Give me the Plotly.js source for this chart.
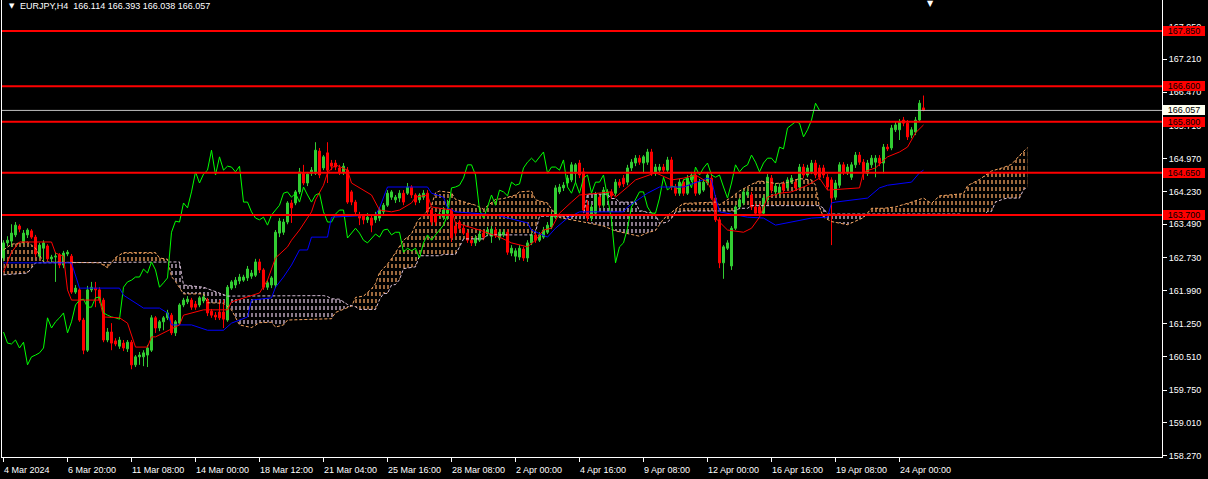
<!DOCTYPE html>
<html><head><meta charset="utf-8">
<script src="https://cdn.plot.ly/plotly-3.0.1.min.js"></script>
<style>html,body{margin:0;padding:0;background:#000;overflow:hidden}#chart{width:1208px;height:479px}</style>
</head><body><div id="chart"></div>
<script>
const headerText = 'EURJPY,H4\u00a0\u00a0166.114 166.393 166.038 166.057';
const timeLabels = ['4 Mar 2024','6 Mar 20:00','11 Mar 08:00','14 Mar 00:00','18 Mar 12:00','21 Mar 04:00','25 Mar 16:00','28 Mar 08:00','2 Apr 00:00','4 Apr 16:00','9 Apr 08:00','12 Apr 00:00','16 Apr 16:00','19 Apr 08:00','24 Apr 00:00'];
const timeLabelBars = [0,16,32,48,64,80,96,112,128,144,160,176,192,208,224];
const priceTicks = [167.95,167.21,166.47,165.71,164.97,164.23,163.49,162.73,161.99,161.25,160.51,159.75,159.01,158.27];
const levelPrices = [167.85,166.60,165.80,164.65,163.70];
const bidPrice = 166.057;

const openP = [
162.73,163.07,163.11,163.25,163.45,163.09,163.25,163.34,163.20,162.77,
162.95,163.00,162.71,162.75,162.80,162.57,162.82,162.77,161.96,162.01,
161.33,160.65,162.01,162.05,162.01,161.78,160.88,161.06,160.86,160.74,
160.81,160.68,160.83,160.32,160.50,160.50,160.54,160.65,161.38,161.15,
161.29,161.38,161.44,161.04,161.26,161.67,161.74,161.78,161.69,161.67,
161.76,161.78,161.53,161.44,161.51,161.51,161.33,162.05,162.12,162.21,
162.23,162.28,162.32,162.34,162.64,162.46,162.07,162.12,162.12,163.29,
163.31,163.54,163.97,163.97,164.22,164.64,164.42,164.64,164.64,165.14,
164.76,165.10,164.87,164.87,164.76,164.67,164.71,164.22,163.99,163.70,
163.68,163.59,163.63,163.59,163.63,163.77,163.92,164.10,164.04,164.08,
164.19,164.19,164.33,164.15,164.04,164.10,164.19,163.81,163.70,163.70,
163.65,163.74,163.81,163.45,163.54,163.40,163.29,163.13,163.07,163.13,
163.29,163.27,163.22,163.36,163.18,163.25,163.31,162.84,162.77,162.75,
162.93,162.73,163.07,163.25,163.13,163.20,163.31,163.43,163.65,164.22,
164.31,164.42,164.49,164.64,164.87,164.67,163.92,163.63,163.74,164.10,
163.92,164.15,164.22,164.19,164.44,164.53,164.44,164.76,164.87,164.98,
164.87,164.89,165.12,164.64,164.71,164.78,164.71,164.94,164.33,164.19,
164.44,164.19,164.49,164.60,164.19,164.26,164.42,164.53,164.08,163.59,
162.62,162.95,162.55,163.40,163.88,163.97,164.15,164.15,163.88,163.88,
163.74,164.04,164.53,164.22,164.19,164.40,164.31,164.44,164.44,164.33,
164.78,164.60,164.67,164.87,164.76,164.76,164.55,164.49,164.10,164.37,
164.83,164.67,164.55,164.83,165.05,164.89,164.64,164.83,164.89,164.98,
164.87,165.23,165.21,165.62,165.62,165.84,165.77,165.50,165.57,165.84,
166.114];
const highP = [
163.13,163.22,163.49,163.54,163.49,163.36,163.40,163.38,163.25,163.07,
163.13,163.04,162.80,162.86,162.84,162.89,162.91,162.82,162.12,162.05,
161.38,162.10,162.19,162.19,162.07,161.83,161.15,161.26,160.92,160.95,
160.88,160.88,160.88,160.54,160.61,160.65,160.77,161.44,161.42,161.33,
161.42,161.56,161.49,161.33,161.71,161.83,161.87,161.83,161.76,161.87,
161.92,161.83,161.58,161.51,161.78,161.78,162.12,162.23,162.30,162.37,
162.35,162.55,162.46,162.71,162.71,162.50,162.23,162.32,163.36,163.63,
163.61,164.01,164.04,164.26,164.76,164.83,164.67,164.78,165.34,165.21,
165.05,165.34,164.94,164.94,164.83,164.87,164.78,164.26,164.04,163.77,
163.72,163.74,163.70,163.77,163.88,163.97,164.26,164.26,164.15,164.26,
164.26,164.42,164.37,164.19,164.19,164.26,164.26,163.86,163.74,163.77,
163.88,164.04,163.86,163.54,163.59,163.47,163.36,163.20,163.25,163.34,
163.36,163.43,163.45,163.43,163.38,163.38,163.38,163.02,162.95,163.02,
162.98,163.13,163.31,163.31,163.31,163.43,163.54,163.77,164.37,164.40,
164.44,164.60,164.89,164.87,164.94,164.76,164.04,163.95,164.22,164.17,
164.33,164.28,164.28,164.51,164.51,164.60,164.83,164.96,165.05,165.05,
165.05,165.19,165.19,164.85,164.85,164.85,165.01,165.01,164.40,164.51,
164.51,164.60,164.67,164.67,164.51,164.51,164.67,164.60,164.15,163.65,
163.02,163.13,163.45,163.92,164.08,164.28,164.28,164.22,163.95,163.95,
164.15,164.62,164.60,164.42,164.40,164.46,164.55,164.60,164.51,164.85,
164.85,164.83,164.94,164.94,164.83,164.83,164.62,164.55,164.49,164.89,
164.89,164.85,164.89,165.12,165.12,164.96,164.94,165.05,165.05,165.05,
165.30,165.30,165.73,165.80,165.86,165.91,165.84,165.68,165.91,166.29,
166.393];
const lowP = [
162.66,163.00,162.98,163.20,163.31,163.04,163.18,163.16,162.75,162.73,
162.62,162.66,162.64,162.19,162.50,162.50,162.77,161.92,161.92,161.29,
160.56,160.61,161.96,161.62,161.71,160.83,160.83,160.65,160.74,160.68,
160.63,160.61,160.22,160.27,160.32,160.29,160.27,160.61,161.04,161.08,
161.10,161.33,160.99,160.97,161.22,161.62,161.69,161.56,161.56,161.62,
161.71,161.42,161.38,161.33,161.33,161.15,161.29,162.01,162.05,162.14,
162.19,162.21,162.26,162.30,162.39,162.01,162.01,162.05,162.05,163.20,
163.25,163.49,163.52,163.92,164.17,164.37,164.35,164.58,164.60,164.53,
164.71,164.42,164.71,164.71,164.60,164.60,163.95,163.92,163.70,163.47,
163.49,163.52,163.31,163.52,163.56,163.72,163.88,164.04,163.97,163.99,
163.92,164.15,164.08,163.92,163.97,164.04,163.72,163.47,163.45,163.63,
163.59,163.59,163.09,163.22,163.36,163.25,163.07,163.00,163.00,163.09,
163.13,163.22,163.07,163.18,163.13,163.20,162.80,162.77,162.64,162.68,
162.66,162.64,163.02,163.07,163.09,163.16,163.27,163.38,163.61,164.17,
164.24,164.35,164.44,164.42,164.53,163.74,163.56,163.56,163.67,163.86,
163.86,164.08,164.06,164.13,164.31,164.33,164.37,164.69,164.80,164.83,
164.64,164.83,164.58,164.58,164.67,164.64,164.67,164.26,164.13,164.13,
164.13,164.15,164.44,164.13,164.15,164.22,164.37,164.04,163.54,162.50,
162.26,162.91,162.46,163.36,163.83,163.92,164.10,163.81,163.70,163.70,
163.70,163.99,164.19,164.15,164.13,164.19,164.26,164.40,164.24,164.28,
164.53,164.55,164.62,164.53,164.49,164.53,164.26,163.02,164.04,164.31,
164.60,164.60,164.49,164.76,164.83,164.49,164.58,164.76,164.55,164.80,
164.64,165.14,165.16,165.57,165.39,165.70,165.39,165.43,165.50,165.80,
166.038];
const closeP = [
163.07,163.13,163.29,163.47,163.38,163.29,163.36,163.20,162.82,163.02,
163.07,162.71,162.75,162.77,162.57,162.84,162.86,161.96,162.05,161.33,
160.65,162.01,162.07,162.01,161.78,160.88,161.06,160.81,160.79,160.88,
160.70,160.83,160.32,160.50,160.54,160.59,160.70,161.38,161.15,161.29,
161.38,161.49,161.04,161.29,161.67,161.78,161.80,161.62,161.62,161.83,
161.85,161.49,161.44,161.40,161.38,161.35,162.07,162.19,162.23,162.30,
162.30,162.48,162.39,162.64,162.46,162.07,162.17,162.28,163.31,163.56,
163.54,163.97,163.86,164.22,164.67,164.42,164.62,164.71,165.16,164.60,
165.01,164.71,164.80,164.78,164.67,164.80,163.99,163.99,163.77,163.63,
163.59,163.65,163.47,163.70,163.81,163.92,164.19,164.22,164.10,164.19,
163.99,164.33,164.15,163.99,164.15,164.19,163.77,163.54,163.54,163.72,
163.81,163.81,163.18,163.29,163.40,163.29,163.13,163.07,163.18,163.27,
163.20,163.36,163.38,163.25,163.31,163.31,162.86,162.95,162.89,162.95,
162.73,163.07,163.25,163.13,163.25,163.36,163.47,163.70,164.31,164.33,
164.37,164.53,164.83,164.83,164.60,163.81,163.63,163.88,164.15,163.92,
164.26,164.22,164.13,164.44,164.37,164.40,164.76,164.89,164.98,164.89,
165.01,165.12,164.64,164.78,164.78,164.71,164.94,164.33,164.19,164.44,
164.19,164.53,164.60,164.19,164.44,164.44,164.60,164.08,163.59,162.62,
162.98,163.07,163.40,163.88,164.04,164.22,164.22,163.88,163.74,163.74,
164.08,164.55,164.26,164.35,164.33,164.26,164.49,164.53,164.31,164.78,
164.60,164.76,164.87,164.60,164.55,164.60,164.33,164.08,164.42,164.83,
164.67,164.78,164.83,165.05,164.89,164.67,164.87,164.98,164.98,164.87,
165.23,165.19,165.66,165.73,165.80,165.77,165.46,165.62,165.84,166.22,
166.057];

const tenkanBar = [0,2,4,12,13,15,16,17,24,25,29,31,33,36,37,38,44,45,50,56,57,62,64,66,68,71,72,74,77,78,80,81,83,86,87,92,94,97,99,102,103,106,107,112,113,119,121,124,127,131,133,135,137,139,142,144,152,153,156,158,163,167,170,173,176,177,178,181,185,187,189,191,194,197,201,204,206,214,215,218,221,224,226,228,230];
const tenkanVal = [162.41,162.86,163.09,163.09,162.84,162.77,162.01,161.78,161.78,161.40,161.38,161.26,160.72,160.72,160.95,160.95,161.22,161.44,161.56,161.56,161.74,161.89,161.94,162.23,162.73,162.98,163.13,163.36,163.77,164.04,164.37,164.65,164.83,164.71,164.42,164.15,163.81,163.77,163.81,163.97,164.10,164.15,163.88,163.81,163.52,163.36,163.29,163.20,163.07,162.98,163.13,163.36,163.40,163.74,163.99,164.15,164.22,164.10,164.33,164.49,164.65,164.49,164.53,164.60,164.44,164.26,163.63,163.36,163.31,163.40,163.65,164.10,164.19,164.22,164.37,164.53,164.26,164.31,164.67,164.76,165.01,165.12,165.23,165.55,165.73];

const kijunBar = [0,17,19,29,30,35,39,41,42,47,51,55,57,61,62,67,68,70,72,74,76,77,81,82,93,94,96,106,107,110,111,113,123,131,132,136,138,141,144,155,156,161,164,170,176,177,178,179,186,190,193,202,206,207,208,216,219,221,227,229,230];
const kijunVal = [162.62,162.62,162.05,162.05,161.89,161.60,161.60,161.49,161.22,161.22,161.10,161.10,161.26,161.40,161.78,161.83,162.07,162.30,162.57,162.91,162.91,163.20,163.20,163.65,163.70,163.86,164.33,164.33,164.19,164.10,163.86,163.77,163.70,163.52,163.36,163.20,163.40,163.63,163.77,163.77,163.88,164.19,164.33,164.33,164.53,164.49,164.10,163.77,163.65,163.63,163.47,163.63,163.65,163.97,163.99,164.08,164.31,164.37,164.44,164.65,164.71];

const spanABar = [0,2,6,8,10,24,26,28,30,38,39,41,41.2,42,43,45,50,51,55,57,59,62,64,67,68,70,71,82,83,87,87.1,88,90,92,93,94,96,97,98,100,102,103,104,106,107,108,109,112,113,118,120,123,125,128,129,132,133,136,137,138.5,139,145,150,153,157,159,161,163,164,164.3,165,168,170,178,179,182,184,187,189,193,196,199,202,203,203.9,204,205,207,211,215,215.8,217,220,223,227,230,232,234,240,241,244,247,250,252,254,256];
const spanAVal = [162.91,163.04,163.09,162.95,162.64,162.62,162.51,162.74,162.85,162.85,162.73,162.70,162.64,162.31,162.20,161.92,161.92,161.72,161.71,161.56,161.22,161.16,161.27,161.28,161.17,161.22,161.33,161.36,161.50,161.63,161.65,161.84,161.87,162.03,162.15,162.40,162.59,162.71,162.85,163.13,163.27,163.48,163.62,163.79,163.92,164.20,164.24,164.20,164.05,163.92,163.83,164.05,164.07,164.15,164.22,164.24,164.04,163.97,163.83,163.68,163.64,163.54,163.45,163.34,163.25,163.22,163.30,163.35,163.48,163.52,163.61,163.83,163.96,163.99,163.93,164.10,164.24,164.39,164.47,164.41,164.43,164.52,164.49,164.37,163.91,163.87,163.65,163.55,163.48,163.64,163.72,163.85,163.85,163.88,163.99,164.08,163.96,164.13,164.18,164.36,164.50,164.69,164.77,164.84,165.04,165.22];

const spanBBar = [0,6,8,41.2,44,45,50,56,80,81,82,84,85,86,87.1,88,89,93,94,95,96,97,98,99,100,103,104,109,110,113,114,115,120,121,132,133,134,138.5,143,144,145,146,151,152,153,154,158,159,160,161,162,163,164,164.3,165,166,167,168,169,170,183,184,186,187,203.9,204,205,206,215.8,239,240,245,246,247,248,249,250,251,254,255,256];
const spanBVal = [162.35,162.39,162.62,162.64,162.64,162.12,162.07,161.87,161.88,161.86,161.81,161.80,161.74,161.68,161.65,161.63,161.57,161.57,161.79,161.93,161.93,162.12,162.13,162.24,162.49,162.53,162.78,162.78,162.81,162.81,162.98,163.16,163.16,163.25,163.25,163.31,163.67,163.68,163.67,163.70,163.70,164.17,164.17,164.07,164.07,163.99,163.99,163.79,163.79,163.75,163.75,163.71,163.51,163.52,163.52,163.54,163.62,163.77,163.77,163.79,163.79,163.85,163.85,163.91,163.91,163.91,163.85,163.72,163.72,163.72,163.69,163.69,163.78,163.78,163.99,164.03,164.06,164.08,164.08,164.27,164.33];

const kumoCross = [0,41.2,87.1,138.5,164.3,203.9,215.8,256];
const chikouShift = 26;

const C = {bull:'#32CD32', bear:'#FF0000', tenkan:'#FF0000', kijun:'#0000FF', chikou:'#00FF00',
  spanA:'#F4A460', spanB:'#D8BFD8', level:'#FF0000', bid:'#C0C0C0', axis:'#FFFFFF'};
const FONT = 'Liberation Sans, Arial, sans-serif';

const traces = [];
function slice(bars, vals, s, e){
  const x=[], y=[];
  for(let k=0;k<bars.length;k++){ if(bars[k]>=s-1e-9 && bars[k]<=e+1e-9){x.push(bars[k]); y.push(vals[k]);} }
  return {x,y};
}
for(let s=0;s<kumoCross.length-1;s++){
  const a=slice(spanABar,spanAVal,kumoCross[s],kumoCross[s+1]);
  const b=slice(spanBBar,spanBVal,kumoCross[s],kumoCross[s+1]);
  const ma=a.y.reduce((p,q)=>p+q,0)/a.y.length, mb=b.y.reduce((p,q)=>p+q,0)/b.y.length;
  const col = ma>=mb ? C.spanA : C.spanB;
  traces.push({type:'scatter',mode:'lines',x:b.x,y:b.y,line:{width:0},hoverinfo:'skip',showlegend:false,xaxis:'x',yaxis:'y'});
  traces.push({type:'scatter',mode:'lines',x:a.x,y:a.y,line:{width:0},fill:'tonexty',fillcolor:'rgba(0,0,0,0)',
    fillpattern:{shape:'|',fgcolor:col,bgcolor:'rgba(0,0,0,0)',size:4,solidity:0.32},hoverinfo:'skip',showlegend:false,xaxis:'x',yaxis:'y'});
}
traces.push({type:'scatter',mode:'lines',x:spanBBar,y:spanBVal,line:{width:0},hoverinfo:'skip',showlegend:false,xaxis:'x',yaxis:'y'});
traces.push({type:'scatter',mode:'lines',x:spanABar,y:spanAVal,line:{width:0},fill:'tonexty',fillcolor:'rgba(0,0,0,0)',
  fillpattern:{shape:'-',fgcolor:'#000000',bgcolor:'rgba(0,0,0,0)',size:7,solidity:0.43},hoverinfo:'skip',showlegend:false,xaxis:'x',yaxis:'y'});

const bars = openP.map((_,i)=>i);
traces.push({type:'candlestick',x:bars,open:openP,high:highP,low:lowP,close:closeP,xaxis:'x2',yaxis:'y2',
  increasing:{line:{color:C.bull,width:1},fillcolor:C.bull},decreasing:{line:{color:C.bear,width:1},fillcolor:C.bear},
  whiskerwidth:0,hoverinfo:'skip',showlegend:false});
traces.push({type:'scatter',mode:'lines',x:spanABar,y:spanAVal,line:{color:C.spanA,width:1,dash:'3px,2px'},hoverinfo:'skip',showlegend:false,xaxis:'x2',yaxis:'y2'});
traces.push({type:'scatter',mode:'lines',x:spanBBar,y:spanBVal,line:{color:C.spanB,width:1,dash:'3px,2px'},hoverinfo:'skip',showlegend:false,xaxis:'x2',yaxis:'y2'});
const chX = closeP.slice(chikouShift).map((_,k)=>k);
const chY = closeP.slice(chikouShift);
traces.push({type:'scatter',mode:'lines',x:chX,y:chY,line:{color:C.chikou,width:1},hoverinfo:'skip',showlegend:false,xaxis:'x2',yaxis:'y2'});
traces.push({type:'scatter',mode:'lines',x:kijunBar,y:kijunVal,line:{color:C.kijun,width:1},hoverinfo:'skip',showlegend:false,xaxis:'x2',yaxis:'y2'});
traces.push({type:'scatter',mode:'lines',x:tenkanBar,y:tenkanVal,line:{color:C.tenkan,width:1},hoverinfo:'skip',showlegend:false,xaxis:'x2',yaxis:'y2'});

const XR = [-0.375, 289.625];
const YR = [158.2415, 168.547];
const W = 1208, H = 479, ML = 2, MR = 46, MT = 0, MB = 22;
const PW = W-ML-MR, PH = H-MT-MB;

const shapes = levelPrices.map(p=>({type:'line',xref:'paper',x0:0,x1:1,yref:'y',y0:p,y1:p,line:{color:C.level,width:2},layer:'above'}));
shapes.unshift({type:'line',xref:'paper',x0:0,x1:1,yref:'y',y0:bidPrice,y1:bidPrice,line:{color:C.bid,width:1},layer:'above'});

const annotations = [];
annotations.push({xref:'paper',yref:'paper',x:(7-ML)/PW,y:1-6/PH,xanchor:'left',yanchor:'middle',showarrow:false,text:'\u25BC',font:{family:'DejaVu Sans',size:7,color:'#FFFFFF'}});
annotations.push({xref:'paper',yref:'paper',x:(18-ML)/PW,y:1-6/PH,xanchor:'left',yanchor:'middle',showarrow:false,text:headerText,font:{family:FONT,size:9,color:'#FFFFFF'}});
annotations.push({xref:'paper',yref:'paper',x:(930-ML)/PW,y:1-4/PH,xanchor:'center',yanchor:'middle',showarrow:false,text:'\u25BC',font:{family:'DejaVu Sans',size:8,color:'#FFFFFF'}});
timeLabels.forEach((t,k)=>annotations.push({xref:'x',yref:'paper',x:timeLabelBars[k],y:-(470-PH)/PH,xanchor:'left',yanchor:'middle',xshift:-2,showarrow:false,text:t,font:{family:FONT,size:9,color:C.axis}}));
levelPrices.forEach(p=>annotations.push({xref:'paper',yref:'y',x:1,y:p,xanchor:'left',yanchor:'middle',xshift:1,showarrow:false,text:p.toFixed(3),
  bgcolor:'#FF0000',borderpad:0,borderwidth:0,width:42,height:10,font:{family:FONT,size:9,color:'#000000'}}));
annotations.push({xref:'paper',yref:'y',x:1,y:bidPrice,xanchor:'left',yanchor:'middle',xshift:1,showarrow:false,text:bidPrice.toFixed(3),
  bgcolor:'#FFFFF0',borderpad:0,borderwidth:0,width:42,height:10,font:{family:FONT,size:9,color:'#000000'}});

const layout = {
  width:W,height:H,margin:{l:ML,r:MR,t:MT,b:MB,pad:0},
  paper_bgcolor:'#000000',plot_bgcolor:'#000000',showlegend:false,
  boxgap:0.5,boxgroupgap:0,
  xaxis:{range:XR,showgrid:false,zeroline:false,showline:true,linecolor:C.axis,linewidth:1,
    tickmode:'array',tickvals:timeLabelBars,ticks:'outside',ticklen:4,tickcolor:C.axis,showticklabels:false,rangeslider:{visible:false},fixedrange:true},
  yaxis:{range:YR,side:'right',showgrid:false,zeroline:false,showline:true,mirror:true,linecolor:C.axis,linewidth:1,
    tickmode:'array',tickvals:priceTicks,ticktext:priceTicks.map(v=>v.toFixed(3)),ticks:'outside',ticklen:4,tickcolor:C.axis,
    tickfont:{family:FONT,size:9,color:C.axis},fixedrange:true},
  xaxis2:{range:XR,overlaying:'x',visible:false,showgrid:false,zeroline:false,rangeslider:{visible:false},fixedrange:true},
  yaxis2:{range:YR,overlaying:'y',visible:false,showgrid:false,zeroline:false,fixedrange:true},
  shapes:shapes,annotations:annotations
};
Plotly.newPlot('chart',traces,layout,{staticPlot:true,displayModeBar:false});
</script></body></html>
